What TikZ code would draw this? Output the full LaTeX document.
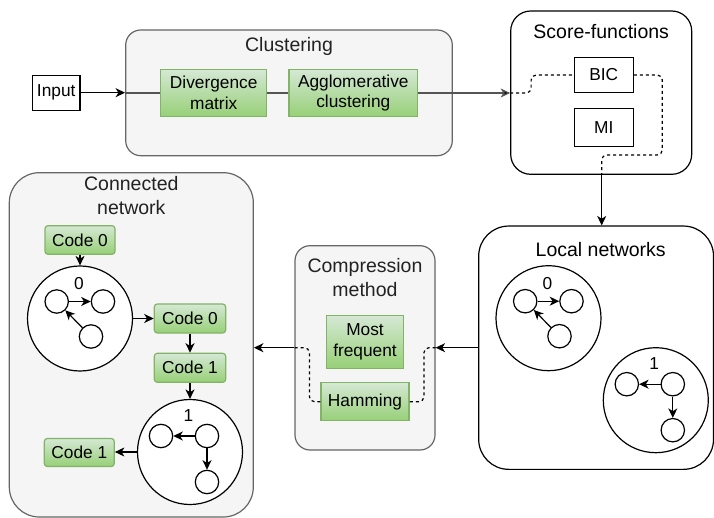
\documentclass[tikz,border=0pt]{standalone}
\usepackage{fontspec}
\setmainfont{Liberation Sans}
\usetikzlibrary{arrows.meta}
\definecolor{grayfill}{HTML}{F5F5F5}
\definecolor{graystroke}{HTML}{666666}
\definecolor{gtop}{HTML}{D5E8D4}
\definecolor{gbot}{HTML}{97D077}
\definecolor{gstroke}{HTML}{82B366}
\definecolor{txtgray}{HTML}{222222}
\definecolor{linegray}{HTML}{555555}
\newcommand{\ttlfont}{\fontsize{19.5}{24}\selectfont}
\newcommand{\infont}{\fontsize{17.3}{20.8}\selectfont}
\tikzset{
  grp/.style={draw=graystroke, fill=grayfill, line width=1.2pt, inner sep=0pt},
  wgrp/.style={draw=black, fill=white, line width=1.2pt, inner sep=0pt},
  gbox/.style={draw=gstroke, top color=gtop, bottom color=gbot, line width=1.2pt, inner sep=0pt, align=center, font=\infont},
  wbox/.style={draw=black, fill=white, line width=1.2pt, inner sep=0pt, align=center, font=\infont},
  bigc/.style={circle, draw=black, fill=white, line width=1.2pt, minimum size=105pt, inner sep=0pt},
  smc/.style={circle, draw=black, fill=white, line width=1.2pt, minimum size=23.4pt, inner sep=0pt},
  lbl/.style={font=\infont, inner sep=0pt},
  ttl/.style={font=\ttlfont, align=center, inner sep=0pt},
  arr/.style={line width=1.2pt, -{Stealth[length=9.5pt,width=9pt,inset=2.8pt]}},
  garr/.style={line width=1.2pt, draw=linegray, -{Stealth[length=9.5pt,width=9pt,inset=2.8pt,fill=black]}},
  gline/.style={line width=1.2pt, draw=linegray},
  dsh/.style={line width=1.2pt, dash pattern=on 3pt off 3pt, rounded corners=5pt},
}
\newcommand{\netzero}[3]{%
  \begin{scope}[shift={(#2,#3)}]
    \node[bigc] (#1) at (0,0) {};
    \node[lbl] (#1t) at (-1,-34.5) {0};
    \node[smc] (#1l) at (-23.3,-17) {};
    \node[smc] (#1r) at (23,-17) {};
    \node[smc] (#1b) at (11,18) {};
    \draw[arr] (#1l) -- (#1r);
    \draw[arr] (#1b) -- (#1l);
  \end{scope}}
\newcommand{\netone}[3]{%
  \begin{scope}[shift={(#2,#3)}]
    \node[bigc] (#1) at (0,0) {};
    \node[lbl] (#1t) at (-1.5,-36.5) {1};
    \node[smc] (#1l) at (-29,-16) {};
    \node[smc] (#1r) at (17,-16) {};
    \node[smc] (#1b) at (17,30) {};
    \draw[arr] (#1r) -- (#1l);
    \draw[arr] (#1r) -- (#1b);
  \end{scope}}
\begin{document}
\begin{tikzpicture}[x=1pt,y=-1pt]
\useasboundingbox (0,0) rectangle (714,518);
% group boxes
\node[grp, rounded corners=15pt, minimum width=326.6pt, minimum height=125.7pt] (clus) at (289,92.85) {};
\node[wgrp, rounded corners=20pt, minimum width=181pt, minimum height=163.3pt] (score) at (601.2,92.65) {};
\node[grp, rounded corners=30pt, minimum width=244pt, minimum height=344.3pt] (conn) at (131.3,344.85) {};
\node[grp, rounded corners=15pt, minimum width=140pt, minimum height=204.3pt] (comp) at (365,347.85) {};
\node[wgrp, rounded corners=30pt, minimum width=234.8pt, minimum height=243.3pt] (local) at (596.1,347.7) {};
% titles
\node[ttl, text=txtgray] (clust) at (289,46) {Clustering};
\node[ttl] (scoret) at (601.2,31.7) {Score-functions};
\node[ttl, text=txtgray] (connt) at (131.3,195.8) {Connected\\network};
\node[ttl, text=txtgray] (compt) at (365,277.3) {Compression\\method};
\node[ttl] (localt) at (600.7,249.3) {Local networks};
% input and clustering
\node[wbox, minimum width=47.7pt, minimum height=35pt] (inp) at (56.2,92.7) {Input};
\node[gbox, minimum width=106pt, minimum height=47.4pt] (div) at (213.7,93) {Divergence\\matrix};
\node[gbox, minimum width=128.7pt, minimum height=47.4pt] (agg) at (353.3,93) {Agglomerative\\clustering};
\draw[arr] (inp.east) -- (inp.east -| clus.west);
\draw[gline] (clus.west |- div) -- (div.west);
\draw[gline] (div.east) -- (agg.west);
\draw[garr] (agg.east) -- (agg.east -| score.west);
% score functions
\node[wbox, minimum width=59pt, minimum height=34.6pt] (bic) at (603.8,75) {BIC};
\node[wbox, minimum width=59pt, minimum height=38.4pt] (mi) at (603.8,127.5) {MI};
\draw[dsh] (agg.east -| score.west) -- ([xshift=21pt]score.west |- agg.east) -- ([xshift=21pt]score.west |- bic) -- (bic.west);
\coordinate (sfout) at ([xshift=0.5pt]score.south);
\draw[dsh] (bic.east) -- ([xshift=28.4pt]bic.east) -- ([xshift=28.4pt,yshift=-80pt]bic.east) -- (sfout |- 0,155) -- (sfout);
\draw[arr] (sfout) -- (sfout |- local.north);
% local networks
\netzero{la}{548.5}{318.2}
\netone{lb}{655.8}{400.2}
% compression
\node[gbox, minimum width=76.6pt, minimum height=52.6pt] (most) at (365,342) {Most\\frequent};
\node[gbox, minimum width=88pt, minimum height=38pt] (ham) at (365,401.7) {Hamming};
\draw[arr] (local.west) -- (local.west -| comp.east);
\draw[dsh] (local.west -| comp.east) -- ([xshift=-11.7pt]comp.east |- local.west) -- ([xshift=-11.7pt]comp.east |- ham) -- (ham.east);
\draw[dsh] (ham.west) -- ([xshift=15pt]comp.west |- ham) -- ([xshift=15pt]comp.west |- local.west) -- (comp.west |- local.west);
\draw[arr] (comp.west |- local.west) -- (conn.east |- local.west);
% connected network
\node[gbox, rounded corners=3pt, minimum width=70pt, minimum height=28.6pt] (c0a) at (80,240) {Code 0};
\netzero{na}{80}{318.5}
\node[gbox, rounded corners=3pt, minimum width=71.4pt, minimum height=29pt] (c0b) at (190,318.5) {Code 0};
\node[gbox, rounded corners=3pt, minimum width=71.4pt, minimum height=29pt] (c1a) at (190,367.8) {Code 1};
\netone{nb}{190}{452}
\node[gbox, rounded corners=3pt, minimum width=70pt, minimum height=28pt] (c1b) at (79.3,452.5) {Code 1};
\draw[arr] (c0a) -- (na);
\draw[arr] (na) -- (c0b);
\draw[arr] (c0b) -- (c1a);
\draw[arr] (c1a) -- (nb);
\draw[arr] (nb.west) -- (nb.west -| c1b.east);
\end{tikzpicture}
\end{document}
